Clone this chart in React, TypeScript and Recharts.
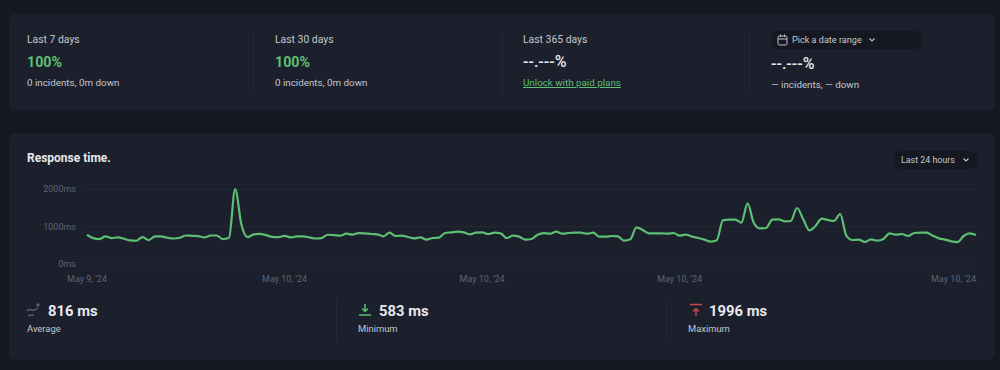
// Uptime monitor panel: availability summary, response time line, min/max stats

import { CartesianGrid, Line, LineChart, XAxis, YAxis } from 'recharts'

// response time in ms, one reading every 10 minutes over 24 hours
const responseMs = [
  780, 690, 665, 735, 690, 708, 672, 628, 620, 717, 637, 735, 735, 700, 680, 700, 760, 752, 743, 708,
  760, 760, 665, 700, 1996, 1062, 717, 788, 805, 770, 725, 717, 752, 708, 735, 735, 708, 680, 690, 780,
  770, 755, 808, 782, 826, 818, 800, 791, 738, 835, 747, 755, 720, 684, 711, 649, 693, 702, 826, 844,
  862, 844, 791, 835, 844, 800, 835, 818, 693, 755, 729, 649, 667, 782, 826, 808, 862, 808, 826, 835,
  835, 808, 835, 729, 729, 747, 738, 622, 658, 978, 907, 818, 818, 818, 808, 827, 756, 782, 729, 693,
  649, 596, 631, 1164, 1182, 1182, 1102, 1618, 1102, 951, 960, 1182, 1191, 1138, 1147, 1493, 1200, 898,
  1013, 1209, 1173, 1147, 1333, 756, 640, 649, 587, 658, 622, 667, 818, 782, 800, 747, 827, 836, 836,
  756, 684, 649, 604, 583, 747, 818, 773,
]

const xTickIndexes = [0, 32, 64, 96, 144]
const xTickLabels = ["May 9, '24", "May 10, '24", "May 10, '24", "May 10, '24", "May 10, '24"]
const yTicks = [0, 1000, 2000]

const chartData = responseMs.map((ms, index) => ({ index, ms }))

const FONT = 'Roboto, sans-serif'
const TEXT = '#c4c7ce'
const WHITE = '#e6e8ec'
const GREEN = '#5dbf72'
const AXIS = '#5d6478'
const CARD = '#1b202c'
const PILL = '#151821'
const RULE = '#232835'

function XTick({ x, y, payload }: any) {
  const pos = xTickIndexes.indexOf(payload.value)
  const last = pos === xTickIndexes.length - 1
  return (
    <text x={x} y={y + 10} textAnchor={last ? 'end' : 'middle'} fill={AXIS} fontSize={9} fontFamily={FONT}>
      {xTickLabels[pos]}
    </text>
  )
}

function Txt({ x, y, size = 10.4, color = TEXT, weight = 400, children, underline }: any) {
  return (
    <div
      style={{
        position: 'absolute',
        left: x,
        top: y,
        fontSize: size,
        lineHeight: '16px',
        color,
        fontWeight: weight,
        whiteSpace: 'nowrap',
        textDecoration: underline ? 'underline' : 'none',
      }}
    >
      {children}
    </div>
  )
}

function VRule({ x, y, h }: any) {
  return <div style={{ position: 'absolute', left: x, top: y, width: 1, height: h, background: RULE }} />
}

function Card({ y, h }: any) {
  return <div style={{ position: 'absolute', left: 9, top: y, width: 986, height: h, background: CARD, borderRadius: 6 }} />
}

function Chevron({ x, y }: any) {
  return (
    <svg style={{ position: 'absolute', left: x, top: y }} width={8} height={6}>
      <path d="M1.5 1.5 L4 4 L6.5 1.5" fill="none" stroke={TEXT} strokeWidth={1.1} />
    </svg>
  )
}

function Icons() {
  return (
    <>
      <svg style={{ position: 'absolute', left: 777, top: 34 }} width={12} height={12}>
        <rect x={1} y={2} width={9} height={9} rx={1.5} fill="none" stroke={TEXT} strokeWidth={1} />
        <path d="M1 5 H10 M3.5 0.5 V3 M7.5 0.5 V3" stroke={TEXT} strokeWidth={1} />
      </svg>
      <svg style={{ position: 'absolute', left: 26, top: 302 }} width={16} height={16}>
        <path d="M1 9 C4 5 6 10 9 8 L12 6 M2 14 C4 12 6 14 8 13" fill="none" stroke={AXIS} strokeWidth={1.3} />
        <path d="M12 1 V5 M10 3 H14" stroke={AXIS} strokeWidth={1.2} />
      </svg>
      <svg style={{ position: 'absolute', left: 358, top: 303 }} width={14} height={14}>
        <path d="M7 1 V8 M4 5.5 L7 8.5 L10 5.5" fill="none" stroke={GREEN} strokeWidth={1.5} />
        <path d="M1 12 H13" stroke={GREEN} strokeWidth={1.5} />
      </svg>
      <svg style={{ position: 'absolute', left: 689, top: 303 }} width={14} height={14}>
        <path d="M1 1.5 H13" stroke="#c9474c" strokeWidth={1.5} />
        <path d="M7 13 V6 M4 8.5 L7 5.5 L10 8.5" fill="none" stroke="#c9474c" strokeWidth={1.5} />
      </svg>
    </>
  )
}

export default function App() {
  return (
    <div
      style={{
        position: 'fixed',
        left: 0,
        top: 0,
        width: 1000,
        height: 370,
        overflow: 'hidden',
        background: '#141822',
        fontFamily: FONT,
      }}
    >
      <Card y={14} h={96} />
      <Card y={133} h={227} />

      <Txt x={27} y={32}>Last 7 days</Txt>
      <Txt x={27} y={54} size={14.2} color={GREEN} weight={700}>100%</Txt>
      <Txt x={27} y={75} size={9.8}>0 incidents, 0m down</Txt>
      <VRule x={253} y={32} h={62} />

      <Txt x={275} y={32}>Last 30 days</Txt>
      <Txt x={275} y={54} size={14.2} color={GREEN} weight={700}>100%</Txt>
      <Txt x={275} y={75} size={9.8}>0 incidents, 0m down</Txt>
      <VRule x={502} y={32} h={62} />

      <Txt x={523} y={32}>Last 365 days</Txt>
      <Txt x={523} y={54} size={16} color={WHITE} weight={500}>--.---%</Txt>
      <Txt x={523} y={75} size={9.8} color={GREEN} underline>Unlock with paid plans</Txt>
      <VRule x={749} y={32} h={62} />

      <div style={{ position: 'absolute', left: 771, top: 31, width: 151, height: 18, background: PILL, borderRadius: 6 }} />
      <Txt x={792} y={32} size={9.1}>Pick a date range</Txt>
      <Chevron x={868} y={37} />
      <Txt x={771} y={56} size={16} color={WHITE} weight={500}>--.---%</Txt>
      <Txt x={771} y={77} size={9.8}>— incidents, — down</Txt>

      <Txt x={27} y={150} size={12} color={WHITE} weight={700}>Response time.</Txt>
      <div style={{ position: 'absolute', left: 894, top: 151, width: 83, height: 18, background: PILL, borderRadius: 6 }} />
      <Txt x={901} y={152} size={8.9}>Last 24 hours</Txt>
      <Chevron x={962} y={157} />

      <div style={{ position: 'absolute', left: 0, top: 170 }}>
        <LineChart width={1000} height={120} data={chartData} margin={{ top: 19, right: 24, bottom: 0, left: 0 }}>
          <CartesianGrid horizontal vertical={false} stroke={RULE} strokeWidth={1} />
          <XAxis
            dataKey="index"
            type="number"
            domain={[0, 144]}
            ticks={xTickIndexes}
            interval={0}
            height={26}
            axisLine={false}
            tickLine={false}
            tick={<XTick />}
          />
          <YAxis
            width={87}
            domain={[0, 2000]}
            ticks={yTicks}
            axisLine={false}
            tickLine={false}
            tickMargin={5}
            tickFormatter={(v: number) => `${v}ms`}
            tick={{ fill: AXIS, fontSize: 9, fontFamily: FONT }}
          />
          <Line type="monotone" dataKey="ms" stroke={GREEN} strokeWidth={2.2} dot={false} isAnimationActive={false} />
        </LineChart>
      </div>

      <Icons />
      <Txt x={48} y={303} size={14.8} color={WHITE} weight={700}>816 ms</Txt>
      <Txt x={27} y={321} size={9.4}>Average</Txt>
      <VRule x={336} y={298} h={44} />
      <Txt x={379} y={303} size={14.8} color={WHITE} weight={700}>583 ms</Txt>
      <Txt x={358} y={321} size={9.4}>Minimum</Txt>
      <VRule x={666} y={298} h={44} />
      <Txt x={709} y={303} size={14.8} color={WHITE} weight={700}>1996 ms</Txt>
      <Txt x={688} y={321} size={9.4}>Maximum</Txt>
    </div>
  )
}
